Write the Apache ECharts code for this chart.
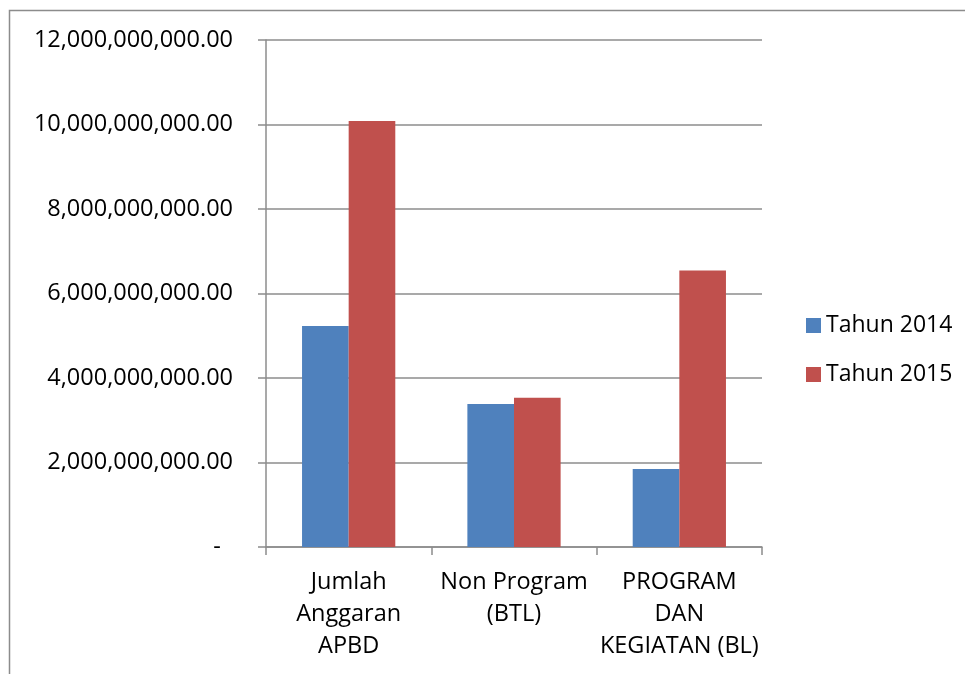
<!DOCTYPE html>
<html>
<head>
<meta charset="utf-8">
<script src="https://cdn.jsdelivr.net/npm/echarts@6/dist/echarts.min.js"></script>
<style>
  html, body { margin: 0; padding: 0; background: #fff; }
  #chart { width: 965px; height: 674px; }
</style>
</head>
<body>
<div id="chart"></div>
<script>
// data
const categories = ['Jumlah\nAnggaran\nAPBD', 'Non Program\n(BTL)', 'PROGRAM\nDAN\nKEGIATAN (BL)'];
const tahun2014 = [5230000000, 3385000000, 1845000000];
const tahun2015 = [10080000000, 3535000000, 6545000000];
const seriesNames = ['Tahun 2014', 'Tahun 2015'];

const font = 'Open Sans';
const gray = '#8c8c8c';

let chart = echarts.init(document.getElementById('chart'));

// angka format akuntansi
function fmt(v) {
  if (v === 0) return '-  ';
  return v.toLocaleString('en-US', { minimumFractionDigits: 2, maximumFractionDigits: 2 });
}

let option = {
  animation: false,
  backgroundColor: '#fff',
  textStyle: { fontFamily: font },
  graphic: [{
    type: 'rect',
    shape: { x: 9.5, y: 10.5, width: 1000, height: 700 },
    style: { fill: 'none', stroke: gray, lineWidth: 1.5 },
    silent: true
  }],
  grid: { left: 266, right: 203, top: 40, bottom: 127 },
  legend: {
    orient: 'vertical',
    left: 801,
    top: 309,
    itemWidth: 15,
    itemHeight: 15,
    itemGap: 26,
    icon: 'rect',
    textStyle: { fontFamily: font, fontSize: 23, lineHeight: 22, color: '#000' },
    data: seriesNames
  },
  xAxis: {
    type: 'category',
    data: categories,
    axisLine: { lineStyle: { color: gray, width: 1.5 } },
    axisTick: { show: true, length: 8, lineStyle: { color: gray, width: 1.5 } },
    axisLabel: { color: '#000', fontFamily: font, fontSize: 23.5, lineHeight: 32, margin: 19, interval: 0 }
  },
  yAxis: {
    type: 'value',
    min: 0,
    max: 12000000000,
    interval: 2000000000,
    axisLine: { show: true, lineStyle: { color: gray, width: 1.5 } },
    axisTick: { show: true, length: 8, lineStyle: { color: gray, width: 1.5 } },
    splitLine: { lineStyle: { color: gray, width: 1.5 } },
    axisLabel: { color: '#000', fontFamily: font, fontSize: 23.5, margin: 33, formatter: fmt }
  },
  series: [
    {
      name: seriesNames[0],
      type: 'bar',
      data: tahun2014,
      barGap: '0%',
      barCategoryGap: '43.6%',
      itemStyle: { color: '#4F81BD' }
    },
    {
      name: seriesNames[1],
      type: 'bar',
      data: tahun2015,
      barGap: '0%',
      barCategoryGap: '43.6%',
      itemStyle: { color: '#C0504D' }
    }
  ]
};

chart.setOption(option);
</script>
</body>
</html>
